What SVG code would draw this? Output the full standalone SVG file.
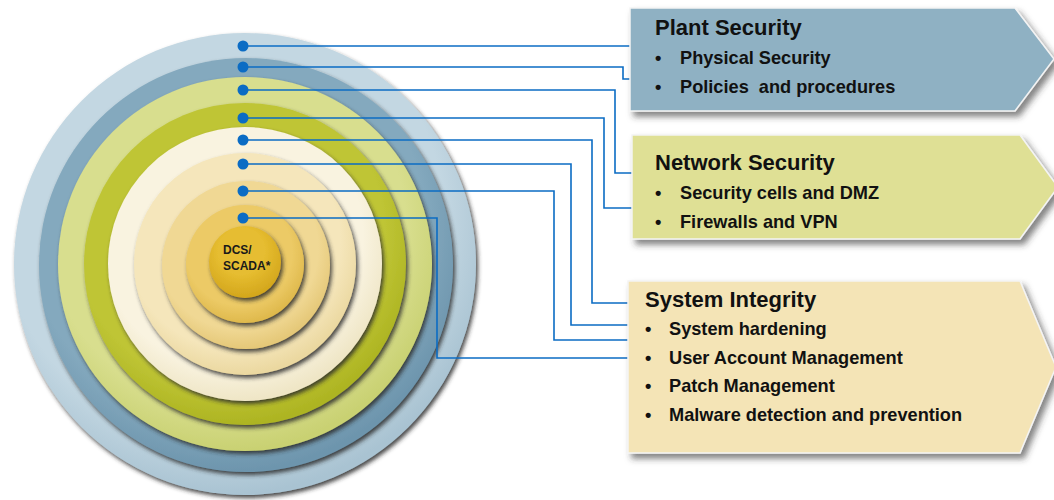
<svg xmlns="http://www.w3.org/2000/svg" width="1054" height="500" viewBox="0 0 1054 500">
  <defs>
    <filter id="disc" x="-10%" y="-10%" width="125%" height="125%">
      <feGaussianBlur in="SourceAlpha" stdDeviation="2.2" result="b"/>
      <feOffset in="b" dx="2" dy="3" result="o"/>
      <feFlood flood-color="#2a2a2a" flood-opacity="0.85"/>
      <feComposite in2="o" operator="in" result="s"/>
      <feMerge><feMergeNode in="s"/><feMergeNode in="SourceGraphic"/></feMerge>
    </filter>
    <filter id="boxsh" x="-5%" y="-10%" width="115%" height="130%">
      <feGaussianBlur in="SourceAlpha" stdDeviation="3" result="b"/>
      <feOffset in="b" dx="4" dy="5" result="o"/>
      <feFlood flood-color="#333" flood-opacity="0.6"/>
      <feComposite in2="o" operator="in" result="s"/>
      <feMerge><feMergeNode in="s"/><feMergeNode in="SourceGraphic"/></feMerge>
    </filter>
    <radialGradient id="g1" cx="45%" cy="40%" r="60%"><stop offset="0.8" stop-color="#c3d7e2"/><stop offset="1" stop-color="#a9c3d2"/></radialGradient>
    <radialGradient id="g2" cx="45%" cy="40%" r="60%"><stop offset="0.8" stop-color="#84a9be"/><stop offset="1" stop-color="#6d95ad"/></radialGradient>
    <radialGradient id="g3" cx="45%" cy="40%" r="60%"><stop offset="0.8" stop-color="#d8de8e"/><stop offset="1" stop-color="#c9d172"/></radialGradient>
    <radialGradient id="g4" cx="45%" cy="40%" r="60%"><stop offset="0.8" stop-color="#bfc535"/><stop offset="1" stop-color="#adb422"/></radialGradient>
    <radialGradient id="g5" cx="45%" cy="40%" r="60%"><stop offset="0.8" stop-color="#f9f3e0"/><stop offset="1" stop-color="#efe6c6"/></radialGradient>
    <radialGradient id="g6" cx="45%" cy="40%" r="60%"><stop offset="0.8" stop-color="#f5e6bb"/><stop offset="1" stop-color="#ebd8a0"/></radialGradient>
    <radialGradient id="g7" cx="45%" cy="40%" r="60%"><stop offset="0.8" stop-color="#f0d894"/><stop offset="1" stop-color="#e5c878"/></radialGradient>
    <radialGradient id="g8" cx="45%" cy="40%" r="60%"><stop offset="0.75" stop-color="#ecca66"/><stop offset="1" stop-color="#dfb94c"/></radialGradient>
    <radialGradient id="g9" cx="45%" cy="35%" r="65%"><stop offset="0.5" stop-color="#e6bd30"/><stop offset="1" stop-color="#d3a61c"/></radialGradient>
    <style>
      .ring { filter: url(#disc); }
      .box { filter: url(#boxsh); stroke: #f4f4f4; stroke-width: 1.5; }
      .conn { fill: none; stroke: #0b6cc4; stroke-width: 1.6; }
      .dot { fill: #0b6cc4; }
      .h { font-family: "Liberation Sans", Arial, sans-serif; font-weight: bold; font-size: 22px; fill: #111; }
      .t { font-family: "Liberation Sans", Arial, sans-serif; font-weight: bold; font-size: 18.2px; fill: #111; }
      .c { font-family: "Liberation Sans", Arial, sans-serif; font-weight: bold; font-size: 12px; fill: #1a1a1a; }
    </style>
  </defs>

  <g id="layers">
    <circle id="ring1" class="ring" cx="245" cy="264" r="231" fill="url(#g1)"/>
    <circle id="ring2" class="ring" cx="246" cy="265" r="207" fill="url(#g2)"/>
    <circle id="ring3" class="ring" cx="245" cy="264" r="187" fill="url(#g3)"/>
    <circle id="ring4" class="ring" cx="245" cy="264" r="161" fill="url(#g4)"/>
    <circle id="ring5" class="ring" cx="245" cy="264" r="137" fill="url(#g5)"/>
    <circle id="ring6" class="ring" cx="245" cy="264" r="111" fill="url(#g6)"/>
    <circle id="ring7" class="ring" cx="246" cy="265" r="84" fill="url(#g7)"/>
    <circle id="ring8" class="ring" cx="245" cy="264" r="59" fill="url(#g8)"/>
  </g>
  <g id="core">
    <circle class="ring" cx="245" cy="262" r="36" fill="url(#g9)"/>
    <text class="c" x="223" y="254">DCS/</text>
    <text class="c" x="223" y="270">SCADA*</text>
  </g>

  <g id="connectors">
    <path class="conn" d="M243,46 H630"/>
    <path class="conn" d="M243,67 H623 V79 H630"/>
    <path class="conn" d="M243,90 H615 V173 H632"/>
    <path class="conn" d="M243,118 H604 V208 H632"/>
    <path class="conn" d="M243,140 H592 V303 H628"/>
    <path class="conn" d="M243,164 H571 V325 H628"/>
    <path class="conn" d="M243,191 H554 V340 H628"/>
    <path class="conn" d="M243,218 H437 V358 H628"/>
    <circle class="dot" cx="243" cy="46" r="5.5"/>
    <circle class="dot" cx="243" cy="67" r="5.5"/>
    <circle class="dot" cx="243" cy="90" r="5.5"/>
    <circle class="dot" cx="243" cy="118" r="5.5"/>
    <circle class="dot" cx="243" cy="140" r="5.5"/>
    <circle class="dot" cx="243" cy="164" r="5.5"/>
    <circle class="dot" cx="243" cy="191" r="5.5"/>
    <circle class="dot" cx="243" cy="218" r="5.5"/>
  </g>

  <g id="plant-security">
    <polygon class="box" points="630,8 1015,8 1054,59 1015,111 630,111" fill="#8fb1c3"/>
    <text class="h" x="655" y="35">Plant Security</text>
    <text class="t" x="655" y="64">•</text>
    <text class="t" x="680" y="64">Physical Security</text>
    <text class="t" x="655" y="93">•</text>
    <text class="t" x="680" y="93" xml:space="preserve">Policies  and procedures</text>
  </g>

  <g id="network-security">
    <polygon class="box" points="632,135 1020,135 1058,187 1020,239 632,239" fill="#dfe095"/>
    <text class="h" x="655" y="170">Network Security</text>
    <text class="t" x="655" y="199">•</text>
    <text class="t" x="680" y="199">Security cells and DMZ</text>
    <text class="t" x="655" y="228">•</text>
    <text class="t" x="680" y="228">Firewalls and VPN</text>
  </g>

  <g id="system-integrity">
    <polygon class="box" points="628,281 1020,281 1056,367 1020,453 628,453" fill="#f4e4b6"/>
    <text class="h" x="645" y="307">System Integrity</text>
    <text class="t" x="645" y="335">•</text>
    <text class="t" x="669" y="335">System hardening</text>
    <text class="t" x="645" y="364">•</text>
    <text class="t" x="669" y="364">User Account Management</text>
    <text class="t" x="645" y="392">•</text>
    <text class="t" x="669" y="392">Patch Management</text>
    <text class="t" x="645" y="421">•</text>
    <text class="t" x="669" y="421">Malware detection and prevention</text>
  </g>
</svg>
